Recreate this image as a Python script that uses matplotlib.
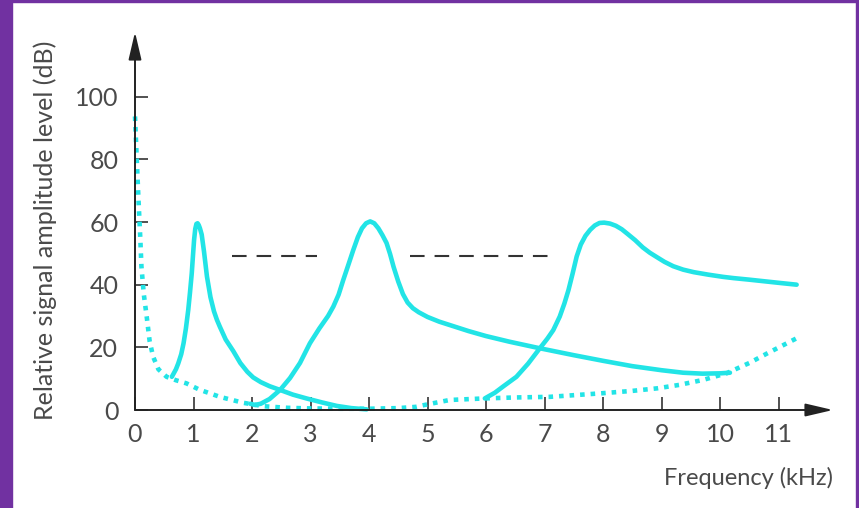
import matplotlib
matplotlib.use("Agg")
import matplotlib.pyplot as plt
from matplotlib.patches import Rectangle

# formant-like peaks (kHz, dB)
f1_khz = [0.63, 0.70, 0.74, 0.79, 0.83, 0.87, 0.91, 0.94, 0.97, 0.99, 1.01, 1.03, 1.05,
          1.07, 1.09, 1.11, 1.14, 1.18, 1.23, 1.29, 1.35, 1.40, 1.45, 1.55, 1.68, 1.80,
          1.92, 2.02, 2.15, 2.30, 2.48, 2.70, 2.93, 3.20, 3.45, 3.70, 3.96]
f1_db = [10.6, 13.0, 14.9, 17.8, 21.3, 26.0, 31.9, 37.5, 43.6, 49.0, 54.3, 57.8, 59.4,
         59.6, 59.0, 58.0, 56.0, 50.5, 42.6, 36.0, 31.5, 28.8, 26.6, 22.5, 18.8, 15.0,
         12.2, 10.4, 8.9, 7.6, 6.4, 4.9, 3.7, 2.4, 1.3, 0.6, 0.2]

f2_khz = [1.97, 2.05, 2.15, 2.30, 2.48, 2.65, 2.82, 2.99, 3.15, 3.30, 3.39, 3.48, 3.56,
          3.65, 3.73, 3.81, 3.88, 3.95, 4.02, 4.09, 4.16, 4.23, 4.30, 4.36, 4.42, 4.50,
          4.58, 4.66, 4.75, 4.85, 5.00, 5.20, 5.40, 5.70, 6.00, 6.40, 6.92, 7.50, 8.00,
          8.50, 9.00, 9.37, 9.70, 10.00, 10.17]
f2_db = [2.0, 1.6, 2.0, 3.5, 6.4, 10.2, 15.0, 21.3, 26.0, 30.0, 33.0, 36.8, 41.5,
         46.5, 51.0, 55.2, 58.0, 59.6, 60.2, 59.6, 58.0, 55.8, 53.3, 49.8, 45.7, 41.0,
         37.0, 34.3, 32.5, 31.2, 29.7, 28.2, 27.0, 25.2, 23.6, 21.8, 19.7, 17.5, 15.7,
         14.0, 12.7, 11.9, 11.6, 11.7, 11.9]

f3_khz = [5.98, 6.15, 6.30, 6.52, 6.72, 6.92, 7.05, 7.15, 7.26, 7.34, 7.41, 7.48, 7.55,
          7.62, 7.70, 7.78, 7.86, 7.94, 8.02, 8.12, 8.22, 8.32, 8.42, 8.55, 8.68, 8.80,
          8.92, 9.05, 9.20, 9.37, 9.55, 9.80, 10.05, 10.23, 10.50, 10.80, 11.05, 11.31]
f3_db = [3.7, 5.5, 7.6, 10.6, 14.8, 19.7, 22.8, 25.5, 29.8, 34.0, 38.3, 43.5, 49.0,
         52.8, 55.6, 57.5, 58.9, 59.7, 59.8, 59.5, 58.8, 57.7, 56.2, 54.2, 51.9, 50.2,
         48.8, 47.3, 45.9, 44.8, 44.0, 43.2, 42.5, 42.1, 41.6, 41.0, 40.5, 40.0]

# hearing threshold (dotted)
thr_khz = [0.0, 0.03, 0.06, 0.09, 0.11, 0.15, 0.2, 0.25, 0.31, 0.4, 0.54, 0.7, 0.88,
           1.1, 1.45, 1.85, 2.2, 2.6, 3.0, 3.5, 4.0, 4.5, 4.8, 5.0, 5.38, 5.98, 6.5,
           7.09, 7.95, 8.5, 8.92, 9.3, 9.71, 10.11, 10.5, 10.8, 11.31]
thr_db = [93.7, 80.0, 67.0, 55.0, 45.8, 37.0, 29.8, 22.0, 17.0, 13.0, 10.6, 9.5, 8.5,
          6.5, 4.2, 2.3, 1.2, 0.7, 0.5, 0.4, 0.4, 0.6, 1.0, 1.8, 3.2, 3.7, 4.0,
          4.2, 5.3, 6.1, 6.9, 8.0, 9.6, 11.7, 15.0, 18.0, 22.9]

# dashed reference level, two pieces
ref_level = 49
ref_spans = [(1.66, 3.11), (4.70, 7.21)]

x_ticks = list(range(0, 12))
y_ticks = [0, 20, 40, 60, 80, 100]

W, H = 859, 508
fig = plt.figure(figsize=(W / 100, H / 100), dpi=100, facecolor="white")

x0, y0, x1, y1 = 135, 410, 833, 32
ax = fig.add_axes([x0 / W, 1 - y0 / H, (x1 - x0) / W, (y0 - y1) / H])
ax.set_xlim(0, (x1 - x0) / 58.5)
ax.set_ylim(0, (y0 - y1) / 3.133)
for s in ax.spines.values():
    s.set_visible(False)
ax.patch.set_alpha(0)

font = dict(family="Lato", weight="normal")
tcol = "#4a4a4a"
cyan = "#22e4e6"

ax.set_xticks(x_ticks)
ax.set_yticks(y_ticks)
ax.set_xticklabels([str(v) for v in x_ticks], fontsize=18, color=tcol, **font)
ax.set_yticklabels([str(v) for v in y_ticks], fontsize=18, color=tcol, **font)
ax.tick_params(axis="both", direction="in", length=9.4, width=1.2, color="#333333")
ax.tick_params(axis="x", pad=9)
ax.tick_params(axis="y", pad=12)

# axes with arrow heads
arrow = dict(arrowstyle="-|>,head_length=1.2,head_width=0.28", color="#222222",
             lw=1.4, mutation_scale=14, shrinkA=0, shrinkB=0)
ax.annotate("", xy=(ax.get_xlim()[1], 0), xytext=(0, 0), arrowprops=arrow,
            annotation_clip=False)
ax.annotate("", xy=(0, ax.get_ylim()[1]), xytext=(0, 0), arrowprops=arrow,
            annotation_clip=False)

ax.plot(thr_khz, thr_db, color=cyan, lw=3.3, linestyle=(0, (1, 1.3)),
        dash_capstyle="butt", clip_on=False)
for xs, ys in [(f1_khz, f1_db), (f2_khz, f2_db), (f3_khz, f3_db)]:
    ax.plot(xs, ys, color=cyan, lw=3.3, solid_capstyle="round",
            solid_joinstyle="round", clip_on=False)

for a, b in ref_spans:
    ax.plot([a, b], [ref_level, ref_level], color="#333333", lw=1.5,
            linestyle=(0, (7, 4.8)))

fig.text(45 / W, 1 - 230 / H, "Relative signal amplitude level (dB)", rotation=90,
         ha="center", va="center", fontsize=18, color=tcol, **font)
fig.text(833 / W, 1 - 478 / H, "Frequency (kHz)", ha="right", va="center",
         fontsize=17, color=tcol, **font)

# purple frame
purple = "#7131a1"
fig.patches.append(Rectangle((0, 0), 12 / W, 1, transform=fig.transFigure,
                             color=purple, zorder=0))
fig.patches.append(Rectangle((1 - 3 / W, 0), 3 / W, 1, transform=fig.transFigure,
                             color=purple, zorder=0))
fig.patches.append(Rectangle((0, 1 - 1.5 / H), 1, 1.5 / H, transform=fig.transFigure,
                             color=purple, zorder=0))

fig.savefig("out.png", dpi=100, facecolor="white")
